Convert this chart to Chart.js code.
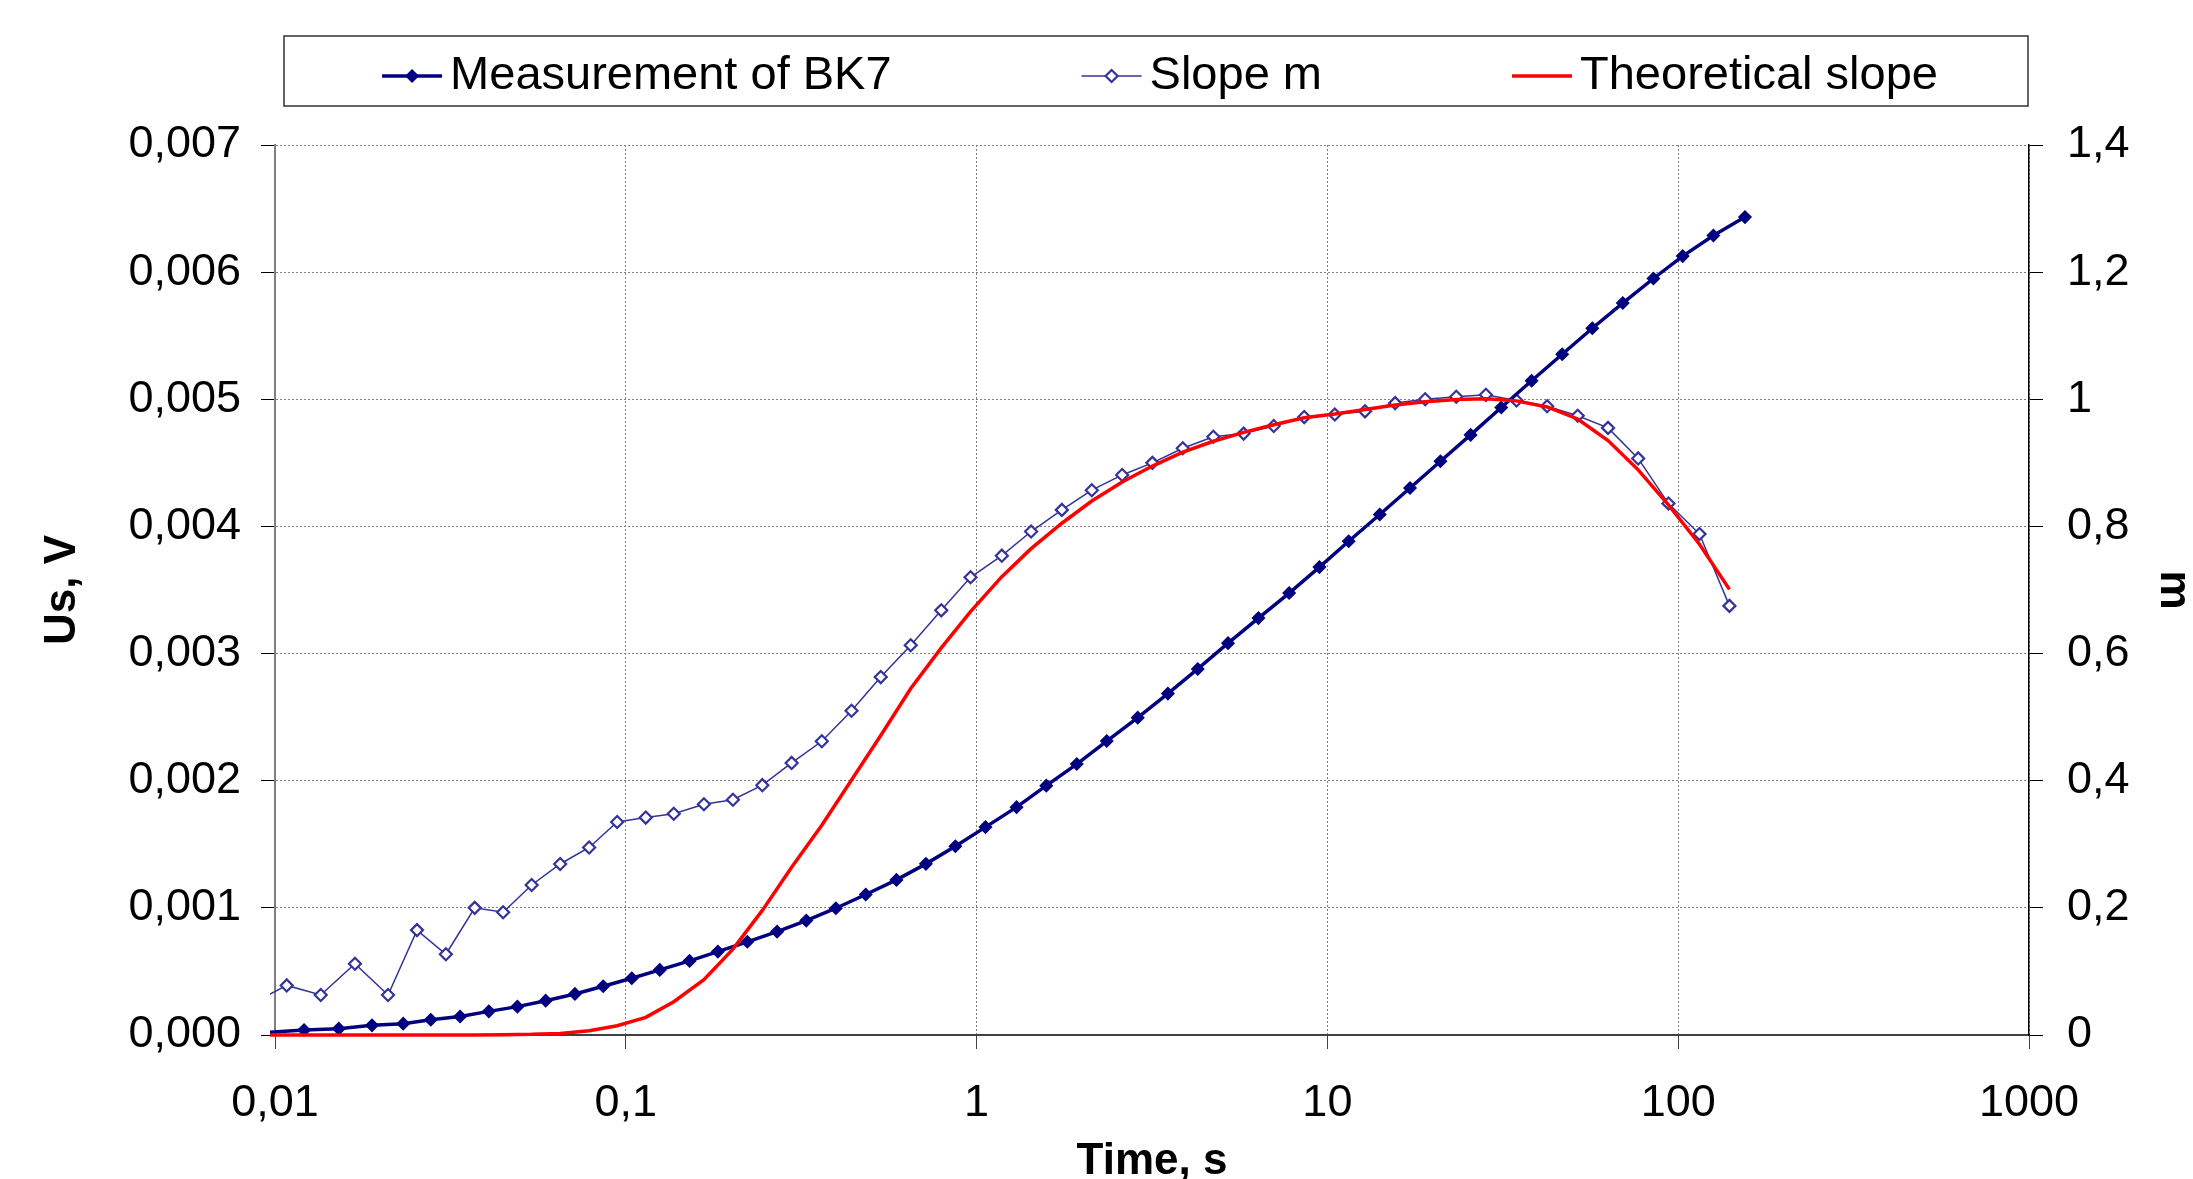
<!DOCTYPE html>
<html>
<head>
<meta charset="utf-8">
<script src="https://cdn.jsdelivr.net/npm/chart.js@4.4.0/dist/chart.umd.min.js"></script>
<style>
  html, body { margin: 0; padding: 0; background: #fff; }
  canvas { display: block; }
</style>
</head>
<body>
<canvas id="chart" width="2193" height="1179"></canvas>
<script>
// measurement of BK7 (time in s, Us in V)
const bk7Time = [0.0094, 0.0121, 0.0152, 0.0189, 0.0232, 0.0278, 0.0337, 0.0407, 0.0491, 0.0591,
  0.0716, 0.0862, 0.104, 0.125, 0.152, 0.183, 0.222, 0.270, 0.327, 0.397,
  0.483, 0.591, 0.717, 0.870, 1.06, 1.30, 1.58, 1.93, 2.35, 2.88,
  3.51, 4.27, 5.21, 6.36, 7.78, 9.49, 11.5, 14.1, 17.2, 21.0,
  25.6, 31.3, 38.2, 46.7, 56.9, 69.5, 85.0, 103, 126, 155];
const bk7Us = [0.000020, 0.000039, 0.000050, 0.000076, 0.000089, 0.000120, 0.000146, 0.000186, 0.000223, 0.000270,
  0.000323, 0.000383, 0.000446, 0.000512, 0.000583, 0.000656, 0.000733, 0.000813, 0.000900, 0.000997,
  0.001105, 0.001220, 0.001346, 0.001485, 0.001635, 0.001792, 0.001961, 0.002131, 0.002312, 0.002496,
  0.002685, 0.002879, 0.003082, 0.003279, 0.003476, 0.003680, 0.003883, 0.004094, 0.004302, 0.004513,
  0.004720, 0.004935, 0.005146, 0.005354, 0.005559, 0.005757, 0.005950, 0.006126, 0.006288, 0.006433];

// slope m and theoretical slope share the same time points
const slopeTime = [0.0087, 0.0108, 0.0135, 0.0169, 0.0210, 0.0254, 0.0307, 0.0371, 0.0447, 0.0539,
  0.0650, 0.0786, 0.0945, 0.114, 0.137, 0.167, 0.202, 0.245, 0.297, 0.362,
  0.440, 0.533, 0.649, 0.793, 0.961, 1.18, 1.43, 1.75, 2.13, 2.60,
  3.17, 3.87, 4.73, 5.77, 7.03, 8.59, 10.5, 12.8, 15.6, 19.0,
  23.3, 28.3, 34.6, 42.3, 51.7, 63.1, 76.9, 93.8, 115, 140];
const slopeM = [0.051, 0.078, 0.063, 0.112, 0.063, 0.165, 0.127, 0.200, 0.193, 0.236,
  0.269, 0.295, 0.335, 0.342, 0.348, 0.363, 0.370, 0.393, 0.428, 0.462,
  0.510, 0.563, 0.613, 0.668, 0.720, 0.754, 0.792, 0.826, 0.857, 0.881,
  0.900, 0.923, 0.941, 0.946, 0.958, 0.972, 0.976, 0.981, 0.994, 1.000,
  1.004, 1.007, 0.998, 0.989, 0.974, 0.955, 0.907, 0.836, 0.788, 0.675];
const theoryM = [0, 0, 0, 0, 0, 0, 0, 0, 0.0005, 0.001,
  0.0025, 0.0068, 0.0146, 0.0277, 0.0524, 0.087, 0.135, 0.196, 0.264, 0.330,
  0.401, 0.471, 0.545, 0.609, 0.666, 0.721, 0.765, 0.805, 0.840, 0.870,
  0.895, 0.917, 0.934, 0.948, 0.960, 0.971, 0.977, 0.984, 0.991, 0.996,
  0.9995, 1.001, 0.9975, 0.988, 0.969, 0.935, 0.889, 0.834, 0.772, 0.701];

const xTickValues = [0.01, 0.1, 1, 10, 100, 1000];
const xTickLabels = ['0,01', '0,1', '1', '10', '100', '1000'];
const usTickValues = [0, 0.001, 0.002, 0.003, 0.004, 0.005, 0.006, 0.007];
const usTickLabels = ['0,000', '0,001', '0,002', '0,003', '0,004', '0,005', '0,006', '0,007'];
const mTickValues = [0, 0.2, 0.4, 0.6, 0.8, 1, 1.2, 1.4];
const mTickLabels = ['0', '0,2', '0,4', '0,6', '0,8', '1', '1,2', '1,4'];

const FONT = '"Liberation Sans", Arial, sans-serif';
const pts = (xs, ys) => xs.map((x, i) => ({x: x, y: ys[i]}));
// first point of each series lies just left of 0,01: line runs in, marker hidden
const hideOutside = c => (c.raw && c.raw.x < 0.01) ? 0 : 6;
const edgeClip = {left: 5, top: 5, right: 5, bottom: 5};

// boxed legend like the original sheet
const legendBox = {
  id: 'legendBox',
  afterDraw(chart) {
    const ctx = chart.ctx;
    const bx = 284, by = 36, bw = 2028 - 284, bh = 106 - 36;
    const cy = by + bh / 2 + 5;
    ctx.save();
    ctx.fillStyle = '#fff';
    ctx.fillRect(bx, by, bw, bh);
    ctx.strokeStyle = '#333';
    ctx.lineWidth = 1.5;
    ctx.strokeRect(bx, by, bw, bh);
    ctx.font = '47px ' + FONT;
    ctx.textBaseline = 'middle';
    const sample = 60, textGap = 8, itemGap = 190;
    const items = chart.data.datasets.map(ds => ({ds: ds, tw: ctx.measureText(ds.label).width}));
    const total = items.reduce((s, it) => s + sample + textGap + it.tw, 0) + itemGap * (items.length - 1);
    let x = bx + bw / 2 - total / 2 + 4;
    items.forEach(it => {
      const ds = it.ds;
      ctx.strokeStyle = ds.borderColor;
      ctx.lineWidth = ds.borderWidth;
      ctx.beginPath();
      ctx.moveTo(x, cy);
      ctx.lineTo(x + sample, cy);
      ctx.stroke();
      if (ds.pointStyle) {
        const mx = x + sample / 2, r = 6;
        ctx.beginPath();
        ctx.moveTo(mx, cy - r);
        ctx.lineTo(mx + r, cy);
        ctx.lineTo(mx, cy + r);
        ctx.lineTo(mx - r, cy);
        ctx.closePath();
        ctx.fillStyle = ds.pointBackgroundColor;
        ctx.fill();
        ctx.strokeStyle = ds.pointBorderColor;
        ctx.lineWidth = ds.pointBorderWidth;
        ctx.stroke();
      }
      ctx.fillStyle = '#000';
      ctx.fillText(ds.label, x + sample + textGap, cy);
      x += sample + textGap + it.tw + itemGap;
    });
    ctx.restore();
  }
};

new Chart(document.getElementById('chart'), {
  type: 'line',
  data: {
    datasets: [
      {
        label: 'Measurement of BK7',
        data: pts(bk7Time, bk7Us),
        yAxisID: 'y',
        borderColor: '#000080',
        borderWidth: 3.5,
        pointStyle: 'rectRot',
        pointRadius: hideOutside,
        pointBackgroundColor: '#000080',
        pointBorderColor: '#000080',
        pointBorderWidth: 1.5,
        clip: edgeClip,
        order: 1
      },
      {
        label: 'Slope m',
        data: pts(slopeTime, slopeM),
        yAxisID: 'y2',
        borderColor: '#333399',
        borderWidth: 1.5,
        pointStyle: 'rectRot',
        pointRadius: hideOutside,
        pointBackgroundColor: '#ffffff',
        pointBorderColor: '#333399',
        pointBorderWidth: 2.2,
        clip: edgeClip,
        order: 2
      },
      {
        label: 'Theoretical slope',
        data: pts(slopeTime, theoryM),
        yAxisID: 'y2',
        borderColor: '#ff0000',
        borderWidth: 3.5,
        pointRadius: 0,
        pointStyle: false,
        clip: edgeClip,
        order: 0
      }
    ]
  },
  options: {
    responsive: false,
    devicePixelRatio: 1,
    animation: false,
    events: [],
    layout: {padding: {top: 145, left: 0, right: 0, bottom: 0}},
    plugins: {legend: {display: false}, tooltip: {enabled: false}},
    scales: {
      x: {
        type: 'logarithmic',
        min: 0.01,
        max: 1000,
        afterBuildTicks: s => { s.ticks = xTickValues.map(v => ({value: v})); },
        afterFit: s => { s.height = 144; },
        ticks: {
          callback: (v, i) => xTickLabels[i],
          font: {size: 45, family: FONT},
          color: '#000',
          padding: 28,
          maxRotation: 0,
          autoSkip: false
        },
        grid: {color: '#808080', lineWidth: 1, tickLength: 14, tickColor: '#404040', tickBorderDash: []},
        border: {color: '#404040', width: 2, dash: [2, 2]},
        title: {
          display: true,
          text: 'Time, s',
          color: '#000',
          font: {size: 44, weight: 'bold', family: FONT, lineHeight: 0.8},
          padding: {top: 0, bottom: 0}
        }
      },
      y: {
        position: 'left',
        min: 0,
        max: 0.007,
        afterBuildTicks: s => { s.ticks = usTickValues.map(v => ({value: v})); },
        afterFit: s => { s.width = 275; },
        ticks: {
          callback: (v, i) => usTickLabels[i],
          font: {size: 45, family: FONT},
          color: '#000',
          padding: 20
        },
        grid: {color: '#808080', lineWidth: 1, tickLength: 14, tickColor: '#000', tickBorderDash: []},
        border: {color: '#808080', width: 2, dash: [2, 2]},
        title: {
          display: true,
          text: 'Us, V',
          color: '#000',
          font: {size: 44, weight: 'bold', family: FONT, lineHeight: 1.2},
          padding: {top: 36, bottom: 0}
        }
      },
      y2: {
        position: 'right',
        min: 0,
        max: 1.4,
        afterBuildTicks: s => { s.ticks = mTickValues.map(v => ({value: v})); },
        afterFit: s => { s.width = 164; },
        ticks: {
          callback: (v, i) => mTickLabels[i],
          font: {size: 45, family: FONT},
          color: '#000',
          padding: 24
        },
        grid: {drawOnChartArea: false, tickLength: 14, tickColor: '#000', color: '#000'},
        border: {color: '#000', width: 1.5},
        title: {
          display: true,
          text: 'm',
          color: '#000',
          font: {size: 44, weight: 'bold', family: FONT, lineHeight: 0.8},
          padding: {top: 2, bottom: 0}
        }
      }
    }
  },
  plugins: [legendBox]
});
</script>
</body>
</html>
